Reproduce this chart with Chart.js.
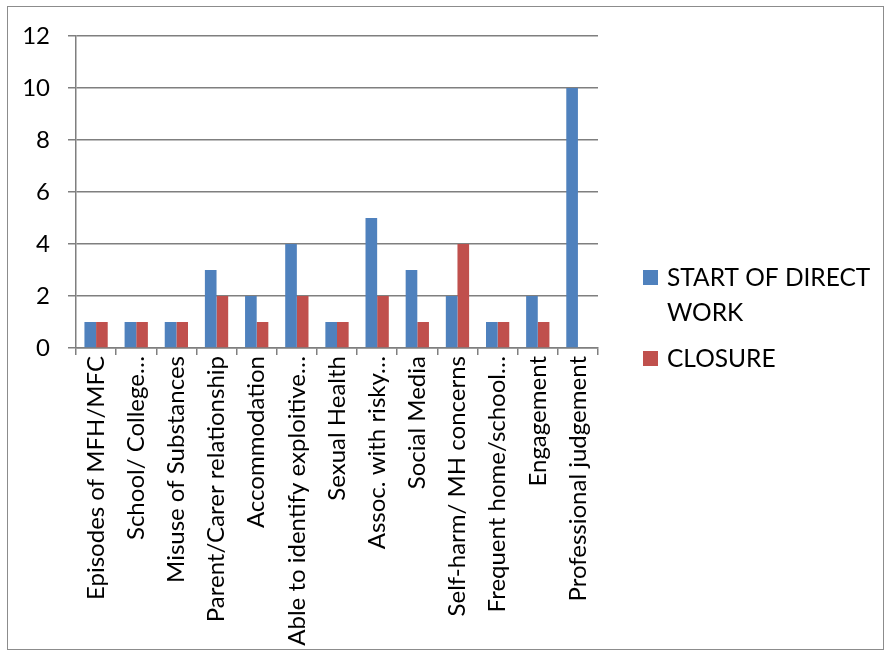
<!DOCTYPE html>
<html>
<head>
<meta charset="utf-8">
<script src="https://cdn.jsdelivr.net/npm/chart.js@4/dist/chart.umd.min.js"></script>
<style>
html,body{margin:0;padding:0;background:#fff;}
#wrap{position:relative;width:890px;height:654px;}
</style>
</head>
<body>
<div id="wrap"><canvas id="c" width="890" height="654"></canvas></div>
<script>
const categories = [
  "Episodes of MFH/MFC",
  "School/ College…",
  "Misuse of Substances",
  "Parent/Carer relationship",
  "Accommodation",
  "Able to identify exploitive…",
  "Sexual Health",
  "Assoc. with risky…",
  "Social Media",
  "Self-harm/ MH concerns",
  "Frequent home/school…",
  "Engagement",
  "Professional judgement"
];
const startOfDirectWork = [1, 1, 1, 3, 2, 4, 1, 5, 3, 2, 1, 2, 10];
const closure = [1, 1, 1, 2, 1, 2, 1, 2, 1, 4, 1, 1, 0];
const seriesNames = [["START OF DIRECT", "WORK"], ["CLOSURE"]];
const yTicks = [0, 2, 4, 6, 8, 10, 12];

const FONT = "Lato, 'Open Sans', sans-serif";
const GRID = "#7f7f7f";

const frameAndLegend = {
  id: "frameAndLegend",
  afterDraw(chart) {
    const ctx = chart.ctx;
    ctx.save();
    ctx.strokeStyle = "#8c8c8c";
    ctx.lineWidth = 1;
    ctx.strokeRect(7.5, 6.5, 876, 643);
    const items = [
      { y: 270, lines: seriesNames[0], color: chart.data.datasets[0].backgroundColor },
      { y: 351, lines: seriesNames[1], color: chart.data.datasets[1].backgroundColor }
    ];
    ctx.font = "24.5px " + FONT;
    ctx.textBaseline = "middle";
    ctx.textAlign = "left";
    items.forEach(it => {
      ctx.fillStyle = it.color;
      ctx.fillRect(643, it.y, 15, 15);
      ctx.fillStyle = "#000";
      it.lines.forEach((t, i) => ctx.fillText(t, 667, it.y + 8 + i * 35));
    });
    ctx.restore();
  }
};

new Chart(document.getElementById("c"), {
  type: "bar",
  data: {
    labels: categories,
    datasets: [
      { label: seriesNames[0].join(" "), data: startOfDirectWork, backgroundColor: "#4F81BD", barPercentage: 1.0, categoryPercentage: 0.58 },
      { label: seriesNames[1].join(" "), data: closure, backgroundColor: "#C0504D", barPercentage: 1.0, categoryPercentage: 0.58 }
    ]
  },
  options: {
    responsive: false,
    animation: false,
    devicePixelRatio: 1,
    layout: { padding: { top: 36, right: 292, left: 0, bottom: 0 } },
    plugins: { legend: { display: false }, tooltip: { enabled: false } },
    scales: {
      x: {
        offset: true,
        grid: { display: true, drawOnChartArea: false, drawTicks: true, tickLength: 7, color: GRID, lineWidth: 1.5, offset: true },
        border: { display: true, color: GRID, width: 1.5 },
        ticks: { autoSkip: false, maxRotation: 90, minRotation: 90, padding: 1, color: "#000", font: { family: FONT, size: 24 } },
        afterFit(scale) { scale.height = 654 - 348; }
      },
      y: {
        min: 0, max: 12,
        afterBuildTicks(scale) { scale.ticks = yTicks.map(v => ({ value: v })); },
        grid: { color: GRID, lineWidth: 1.5, drawTicks: true, tickLength: 8 },
        border: { display: true, color: GRID, width: 1.5 },
        ticks: { padding: 18, color: "#000", font: { family: FONT, size: 24 } },
        afterFit(scale) { scale.width = 76; }
      }
    }
  },
  plugins: [frameAndLegend]
});
</script>
</body>
</html>
